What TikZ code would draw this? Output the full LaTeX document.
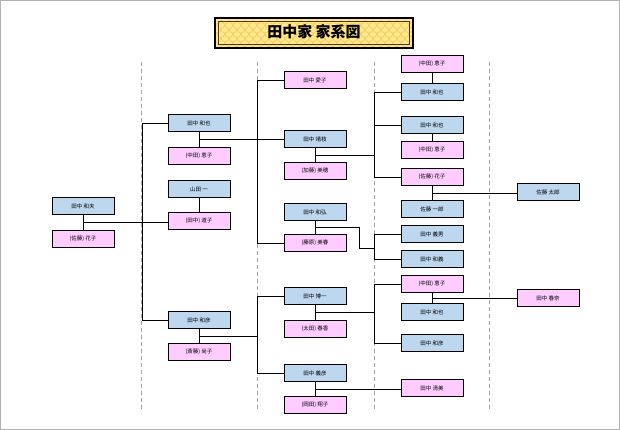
\documentclass[tikz,border=0pt]{standalone}
\usepackage{fontspec}
\newfontfamily\jp{Noto Sans CJK JP}
\usetikzlibrary{calc}
\definecolor{mblue}{HTML}{BDD7EE}
\definecolor{fpink}{HTML}{FFCCFF}
\definecolor{tyel}{HTML}{FFE892}
\definecolor{tscale}{HTML}{F2C94C}
\tikzset{
  person/.style={draw=black,line width=0.8pt,minimum width=62pt,minimum height=17.5pt,inner sep=0pt,font=\jp\fontsize{5.5}{6}\selectfont},
  male/.style={person,fill=mblue},
  female/.style={person,fill=fpink},
  conn/.style={draw=black,line width=0.8pt},
  guide/.style={draw=black!35,line width=0.5pt,dash pattern=on 4pt off 3pt}
}
\begin{document}
\begin{tikzpicture}[x=1pt,y=-1pt]
\useasboundingbox (0,0) rectangle (620,430);
\draw[black!30,line width=1pt] (0.5,0.5) rectangle (619.5,429.5);
% guides
\foreach \gx in {141,257,374,489}{\draw[guide] (\gx,62) -- (\gx,410);}
% title
\begin{scope}
\clip (215,18) rectangle (413,48);
\fill[tyel] (215,18) rectangle (413,48);
\foreach \j in {0,...,7}{
  \foreach \i in {0,...,26}{
    \pgfmathsetmacro{\xx}{213+\i*8+mod(\j,2)*4}
    \pgfmathsetmacro{\yy}{20+\j*4.5}
    \draw[tscale,line width=0.6pt] (\xx,\yy) arc[start angle=180,end angle=0,radius=4];
  }
}
\end{scope}
\draw[black,line width=2pt] (215,18) rectangle (413,48);
\draw[black!70!tscale,line width=0.4pt] (218.5,21.5) rectangle (409.5,44.5);
\node (title) at (314,32) {\jp\bfseries\fontsize{15}{16}\selectfont 田中家 家系図};
% column 1
\node[male] (kazuo) at (83,206) {田中 和夫};
\node[female] (hanako1) at (83,239) {(佐藤) 花子};
% column 2
\node[male] (kazuyaB) at (199,123) {田中 和也};
\node[female] (keikoB) at (199,156) {(中田) 恵子};
\node[male] (yamada) at (199,189) {山田 一};
\node[female] (michiko) at (199,221) {(田中) 道子};
\node[male] (kazuhikoB) at (199,320) {田中 和彦};
\node[female] (naoko) at (199,352) {(斎藤) 尚子};
% column 3
\node[female] (aiko) at (315,80) {田中 愛子};
\node[male] (yasue) at (315,139) {田中 靖枝};
\node[female] (miho) at (315,171) {(加藤) 美穂};
\node[male] (kazuhiro) at (315,212) {田中 和弘};
\node[female] (miharu) at (315,243) {(藤原) 美春};
\node[male] (hirokazu) at (315,296) {田中 博一};
\node[female] (haruka) at (315,329) {(太田) 春香};
\node[male] (yoshihiko) at (315,373) {田中 義彦};
\node[female] (shoko) at (315,405) {(岡田) 翔子};
% column 4
\node[female] (da) at (432,64) {(中田) 恵子};
\node[male] (db) at (432,92) {田中 和也};
\node[male] (dc) at (432,125) {田中 和也};
\node[female] (dd) at (432,150) {(中田) 恵子};
\node[female] (de) at (432,177) {(佐藤) 花子};
\node[male] (df) at (432,209) {佐藤 一郎};
\node[male] (dg) at (432,234) {田中 義男};
\node[male] (dh) at (432,259) {田中 和義};
\node[female] (di) at (432,284) {(中田) 恵子};
\node[male] (dj) at (432,312) {田中 和也};
\node[male] (dk) at (432,343) {田中 和彦};
\node[female] (dl) at (432,388) {田中 清美};
% column 5
\node[male] (taro) at (548,192) {佐藤 太郎};
\node[female] (haruna) at (548,298) {田中 春奈};
% bus coordinates
\coordinate (busA) at (142,0);
\coordinate (busB) at (257,0);
\coordinate (busC) at (374,0);
\coordinate (elbow) at (359,0);
% couples
\draw[conn] (kazuo.south) -- (hanako1.north);
\draw[conn] (kazuyaB.south) -- (keikoB.north);
\draw[conn] (yamada.south) -- (michiko.north);
\draw[conn] (kazuhikoB.south) -- (naoko.north);
\draw[conn] (yasue.south) -- (miho.north);
\draw[conn] (kazuhiro.south) -- (miharu.north);
\draw[conn] (hirokazu.south) -- (haruka.north);
\draw[conn] (yoshihiko.south) -- (shoko.north);
\draw[conn] (da.south) -- (db.north);
\draw[conn] (dc.south) -- (dd.north);
\draw[conn] (de.south) -- (df.north);
\draw[conn] (di.south) -- (dj.north);
% couple midpoints
\coordinate (m1) at ($(kazuo.south)!0.5!(hanako1.north)$);
\coordinate (m2) at ($(kazuyaB.south)!0.5!(keikoB.north)$);
\coordinate (m3) at ($(kazuhikoB.south)!0.5!(naoko.north)$);
\coordinate (m4) at ($(yasue.south)!0.5!(miho.north)$);
\coordinate (m5) at ($(kazuhiro.south)!0.5!(miharu.north)$);
\coordinate (m6) at ($(hirokazu.south)!0.5!(haruka.north)$);
\coordinate (m7) at ($(yoshihiko.south)!0.5!(shoko.north)$);
\coordinate (m8) at ($(de.south)!0.5!(df.north)$);
\coordinate (m9) at ($(di.south)!0.5!(dj.north)$);
% generation 1 -> 2
\draw[conn] (m1) -- (m1 -| michiko.west);
\draw[conn] (kazuyaB.west) -- (kazuyaB.west -| busA) -- (kazuhikoB.west -| busA) -- (kazuhikoB.west);
% generation 2 -> 3
\draw[conn] (m2) -- (m2 -| yasue.west);
\draw[conn] (aiko.west) -- (aiko.west -| busB) -- (miharu.west -| busB) -- (miharu.west);
\draw[conn] (m3) -- (m3 -| busB);
\draw[conn] (hirokazu.west) -- (hirokazu.west -| busB) -- (yoshihiko.west -| busB) -- (yoshihiko.west);
% generation 3 -> 4
\draw[conn] (m4) -- (m4 -| busC);
\draw[conn] (db.west) -- (db.west -| busC) -- (de.west -| busC) -- (de.west);
\draw[conn] (dc.west) -- (dc.west -| busC);
\draw[conn] (m5) -- (m5 -| elbow) -- ($(elbow)+(0,248)$) -- ($(busC)+(0,248)$);
\draw[conn] (dg.west) -- (dg.west -| busC) -- (dh.west -| busC) -- (dh.west);
\draw[conn] (m6) -- (m6 -| busC);
\draw[conn] (di.west) -- (di.west -| busC) -- (dk.west -| busC) -- (dk.west);
\draw[conn] (m7) -- (m7 -| dl.west);
% generation 4 -> 5
\draw[conn] (m8) -- (m8 -| taro.west);
\draw[conn] (m9) -- (m9 -| haruna.west);
\end{tikzpicture}
\end{document}
